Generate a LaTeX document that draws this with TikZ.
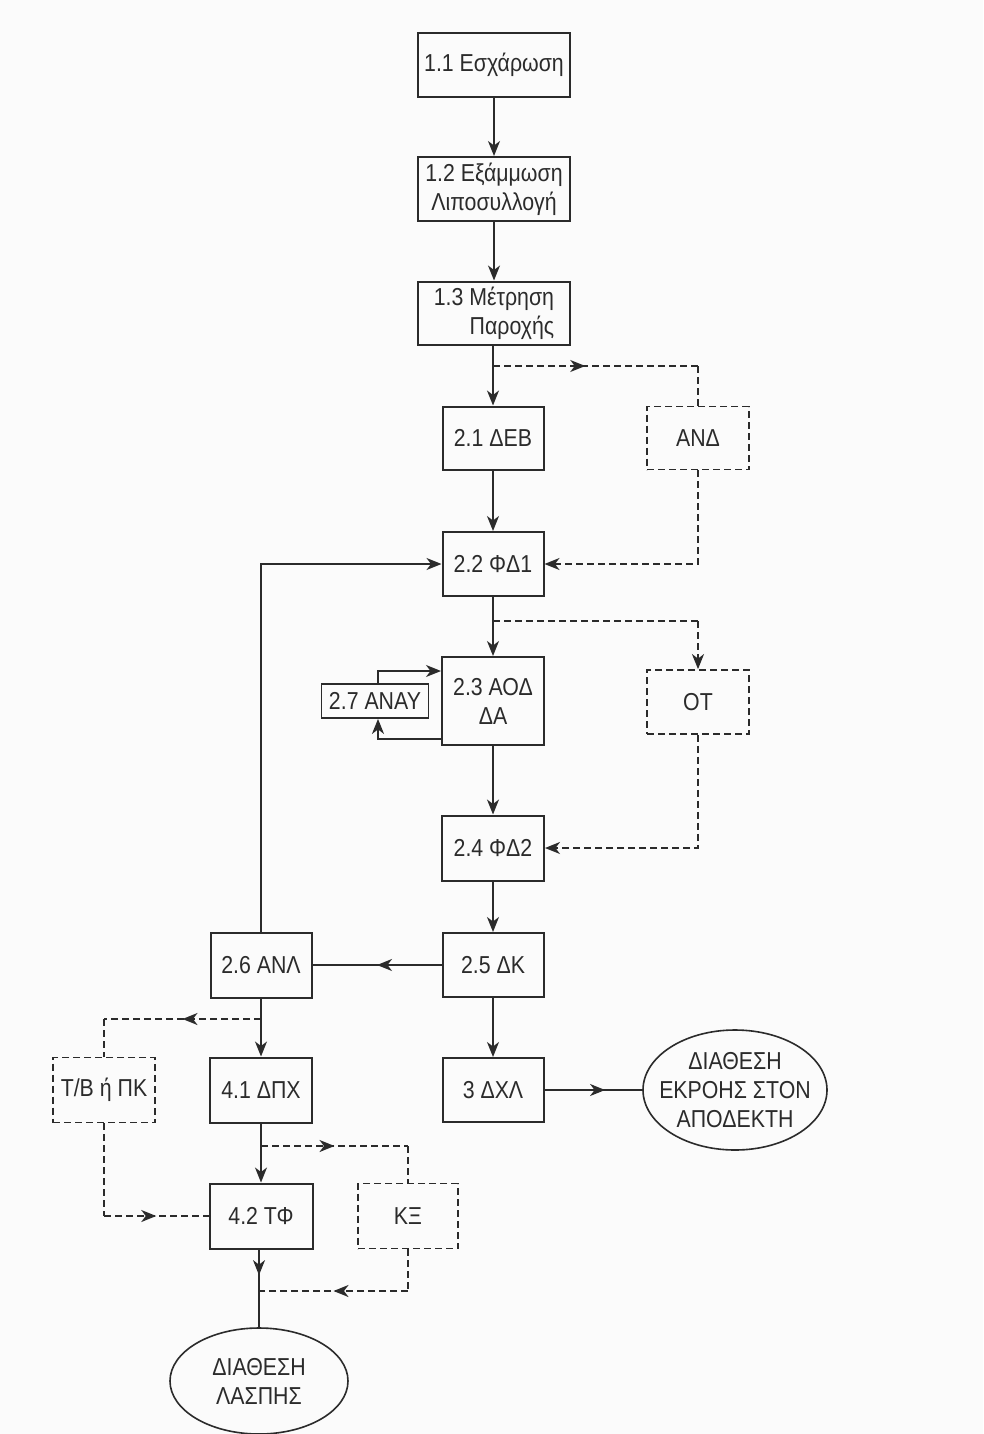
\documentclass[tikz,border=0pt]{standalone}
\usepackage{fontspec}
\setmainfont{Liberation Sans}[FakeStretch=0.87]
\usetikzlibrary{arrows.meta,decorations.markings,calc,shapes.geometric}

\definecolor{ink}{HTML}{2B2B2B}
\definecolor{paper}{HTML}{FBFBFB}

\tikzset{
  tip/.tip={Stealth[length=15pt,width=12pt,inset=4.5pt]},
  box/.style={draw=ink, line width=2pt, rectangle, inner sep=0pt, align=center,
              text=ink, font=\fontsize{24.5}{29}\selectfont},
  dbox/.style={box, line width=1.8pt, dash pattern=on 7pt off 4pt},
  ell/.style={draw=ink, line width=1.6pt, ellipse, inner sep=0pt},
  etext/.style={align=center, text=ink, font=\fontsize{24.5}{29}\selectfont, inner sep=0pt},
  flow/.style={draw=ink, line width=1.6pt},
  dflow/.style={draw=ink, line width=1.8pt, dash pattern=on 7pt off 4pt},
  endarrow/.style={-tip},
  midarrow/.style={postaction={decorate}, decoration={markings,
      mark=at position #1 with {\arrow{tip}}}},
  midarrow/.default=0.5,
}

\begin{document}
\begin{tikzpicture}[x=1pt, y=-1pt]
\fill[paper] (0,0) rectangle (983,1434);
\useasboundingbox (0,0) rectangle (983,1434);

% ---- main column ----
\node[box, minimum width=152, minimum height=64] (b11) at (494,65) {1.1 Εσχάρωση};
\node[box, minimum width=152, minimum height=64] (b12) at (494,189) {1.2 Εξάμμωση\\Λιποσυλλογή};
\node[box, minimum width=152, minimum height=63, align=right] (b13) at (494,313) {1.3 Μέτρηση\\Παροχής};
\node[box, minimum width=101, minimum height=63] (b21) at (493,438) {2.1 ΔΕΒ};
\node[box, minimum width=101, minimum height=64] (b22) at (493,564) {2.2 ΦΔ1};
\node[box, minimum width=102, minimum height=88] (b23) at (493,701) {2.3 ΑΟΔ\\ΔΑ};
\node[box, minimum width=107, minimum height=34, line width=1.8pt] (b27) at (375,701) {2.7 ΑΝΑΥ};
\node[box, minimum width=102, minimum height=65] (b24) at (493,848) {2.4 ΦΔ2};
\node[box, minimum width=101, minimum height=64] (b25) at (493,965) {2.5 ΔΚ};
\node[box, minimum width=101, minimum height=64] (b3) at (493,1090) {3 ΔΧΛ};

% ---- sludge column ----
\node[box, minimum width=101, minimum height=65] (b26) at (261,965) {2.6 ΑΝΛ};
\node[box, minimum width=102, minimum height=65] (b41) at (261,1090) {4.1 ΔΠΧ};
\node[box, minimum width=103, minimum height=65] (b42) at (261,1216) {4.2 ΤΦ};

% ---- optional (dashed) units ----
\node[dbox, minimum width=102, minimum height=63] (and) at (698,438) {ΑΝΔ};
\node[dbox, minimum width=102, minimum height=64] (ot) at (698,702) {ΟΤ};
\node[dbox, minimum width=102, minimum height=65] (tb) at (104,1090) {Τ/Β ή ΠΚ};
\node[dbox, minimum width=100, minimum height=65] (ks) at (408,1216) {ΚΞ};

% ---- final disposal ----
\node[ell, minimum width=184, minimum height=120] (e1) at (735,1090) {};
\node[etext] (e1t) at (e1) {ΔΙΑΘΕΣΗ\\ΕΚΡΟΗΣ ΣΤΟΝ\\ΑΠΟΔΕΚΤΗ};
\node[ell, minimum width=178, minimum height=106] (e2) at (259,1381) {};
\node[etext] (e2t) at (e2) {ΔΙΑΘΕΣΗ\\ΛΑΣΠΗΣ};

% ---- branch points ----
\coordinate (j1) at (493,366);
\coordinate (j2) at (493,621);
\coordinate (j3) at (261,1019);
\coordinate (j4) at (261,1146);
\coordinate (j5) at (259,1291);
\coordinate (l1) at (378,671);
\coordinate (l2) at (378,739);

% ---- solid flow ----
\draw[flow, endarrow] (b11) -- (b12);
\draw[flow, endarrow] (b12) -- (b13);
\draw[flow, endarrow] (b13.south -| b21) -- (b21);
\draw[flow, endarrow] (b21) -- (b22);
\draw[flow, endarrow] (b22) -- (b23);
\draw[flow, endarrow] (b23) -- (b24);
\draw[flow, endarrow] (b24) -- (b25);
\draw[flow, endarrow] (b25) -- (b3);
\draw[flow, midarrow=0.62] (b3.east) -- (e1.west);
\draw[flow, midarrow] (b25.west) -- (b26.east);
\draw[flow, endarrow] (b26.north) |- (b22.west);
\draw[flow, endarrow] (b26) -- (b41);
\draw[flow, endarrow] (b41) -- (b42);
\draw[flow, midarrow=0.33] (b42.south -| e2.north) -- (e2.north);

% recirculation loop 2.3 <-> 2.7
\draw[flow, endarrow] (l1 |- b27.north) -- (l1) -- (l1 -| b23.west);
\draw[flow, endarrow] (l2 -| b23.west) -- (l2) -- (l2 |- b27.south);

% ---- dashed flow ----
\draw[dflow, midarrow=0.45] (j1) -- (j1 -| and);
\draw[dflow] (j1 -| and) -- (and.north);
\draw[dflow, endarrow] (and.south) |- (b22.east);

\draw[dflow] (j2) -- (j2 -| ot);
\draw[dflow, endarrow] (j2 -| ot) -- (ot.north);
\draw[dflow, endarrow] (ot.south) |- (b24.east);

\draw[dflow, midarrow=0.5] (j3) -- (j3 -| tb);
\draw[dflow] (j3 -| tb) -- (tb.north);
\draw[dflow] (tb.south) -- (tb.south |- b42.west);
\draw[dflow, midarrow=0.5] (tb.south |- b42.west) -- (b42.west);

\draw[dflow, midarrow=0.5] (j4) -- (j4 -| ks);
\draw[dflow] (j4 -| ks) -- (ks.north);
\draw[dflow] (ks.south) -- (ks.south |- j5);
\draw[dflow, midarrow=0.5] (ks.south |- j5) -- (j5);
\end{tikzpicture}
\end{document}
